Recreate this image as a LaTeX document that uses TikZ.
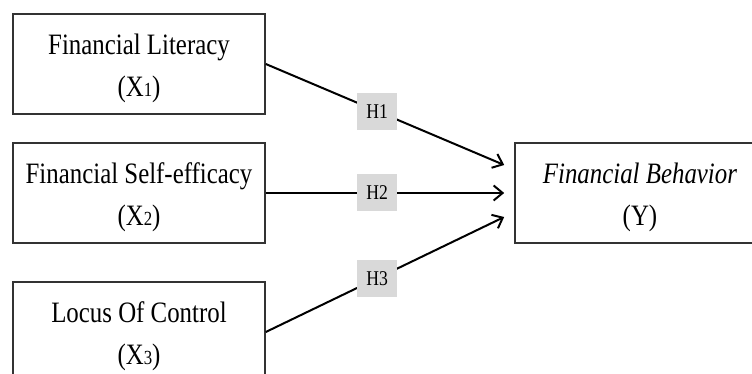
\documentclass[tikz,border=0pt]{standalone}
\usepackage{fontspec}
\setmainfont[FakeStretch=0.84]{Liberation Serif}
\usetikzlibrary{arrows.meta}

\newcommand{\idx}[1]{{\fontsize{10}{10}\selectfont #1}}

\begin{document}
\begin{tikzpicture}[x=0.5pt, y=0.5pt,
    varbox/.style={draw=black!80, line width=0.8pt, minimum width=126pt,
      minimum height=50pt, inner sep=0pt, align=center,
      font=\fontsize{14.8}{21}\selectfont},
    hyp/.style={fill=black!15, minimum width=20pt, minimum height=18.5pt,
      inner sep=0pt, pos=0.467, font=\fontsize{10.5}{11}\selectfont},
    link/.style={line width=1pt, -{Straight Barb[length=4.5pt,width=7.5pt]}}]
  \clip (0,0) rectangle (752,374);

  % Draw the variables
  \node[varbox] (x1) at (139,310) {\strut Financial Literacy\\(X\idx{1})};
  \node[varbox] (x2) at (139,181) {\strut Financial Self-efficacy\\(X\idx{2})};
  \node[varbox] (x3) at (139,42) {\strut Locus Of Control\\(X\idx{3})};
  \node[varbox, minimum width=125pt] (yb) at (640,181) {\strut\textit{Financial Behavior}\\(Y)};

  % Arrow ends
  \coordinate (y1) at ([xshift=-5pt, yshift=14pt]yb.west);
  \coordinate (y2) at ([xshift=-5pt]yb.west);
  \coordinate (y3) at ([xshift=-5pt, yshift=-12pt]yb.west);

  % Draw the hypotheses
  \draw[link] (x1.east) -- node[hyp] (h1) {H1} (y1);
  \draw[link] (x2.east) -- node[hyp] (h2) {H2} (y2);
  \draw[link] (x3.east) -- node[hyp] (h3) {H3} (y3);
\end{tikzpicture}
\end{document}
